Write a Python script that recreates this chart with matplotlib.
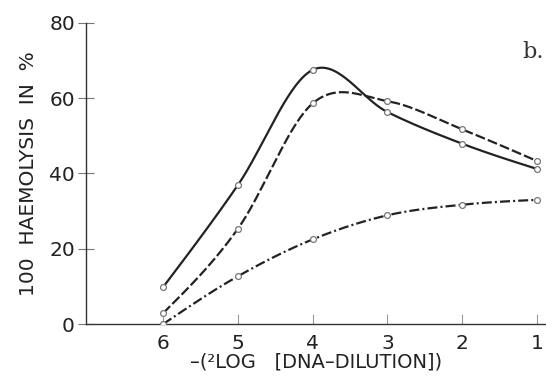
import numpy as np
import matplotlib
matplotlib.use("Agg")
import matplotlib.pyplot as plt

# data
dilution = [6, 5, 4, 3, 2, 1]
solid_vals = [9.8, 36.9, 67.5, 56.3, 47.9, 41.2]
dashed_vals = [2.9, 25.3, 58.6, 59.2, 51.7, 43.3]
dashdot_vals = [0.0, 12.7, 22.5, 28.9, 31.7, 33.0]
yticks = [0, 20, 40, 60, 80]


def smooth_curve(x, y, n=60):
    """ courbe de Catmull-Rom passant par les points (tracé lisse) """
    x = np.asarray(x, float)
    y = np.asarray(y, float)
    k = len(x)
    m = np.zeros(k)
    for i in range(1, k - 1):
        m[i] = (y[i + 1] - y[i - 1]) / (x[i + 1] - x[i - 1])
    c0 = (y[1] - y[0]) / (x[1] - x[0])
    c1 = (y[-1] - y[-2]) / (x[-1] - x[-2])
    m[0] = (3 * c0 - m[1]) / 2
    m[-1] = (3 * c1 - m[-2]) / 2
    xs_all, ys_all = [], []
    for i in range(k - 1):
        h = x[i + 1] - x[i]
        t = np.linspace(0, 1, n)
        h00 = 2 * t**3 - 3 * t**2 + 1
        h10 = t**3 - 2 * t**2 + t
        h01 = -2 * t**3 + 3 * t**2
        h11 = t**3 - t**2
        xs_all.append(x[i] + t * h)
        ys_all.append(h00 * y[i] + h10 * h * m[i] + h01 * y[i + 1]
                      + h11 * h * m[i + 1])
    return np.concatenate(xs_all), np.concatenate(ys_all)


fig = plt.figure(figsize=(5.46, 3.80), dpi=100)
ax = fig.add_axes([0.1575, 0.147, 0.8425, 0.793])

col = '#222222'
lw = 1.6
styles = [(solid_vals, '-'),
          (dashed_vals, (0, (4.5, 1.4))),
          (dashdot_vals, (0, (4.5, 1.4, 0.9, 1.4)))]
for vals, ls in styles:
    xs, ys = smooth_curve(dilution, vals)
    ax.plot(xs, ys, color=col, lw=lw, linestyle=ls, zorder=2)
    ax.plot(dilution, vals, 'o', ms=4.2, mfc='white', mec='#777777',
            mew=0.9, zorder=3)

ax.set_xlim(7.03, 0.88)
ax.set_ylim(0, 80)
ax.set_xticks(dilution)
ax.set_yticks(yticks)
for s in ['top', 'right']:
    ax.spines[s].set_visible(False)
for s in ['left', 'bottom']:
    ax.spines[s].set_color('#333333')
    ax.spines[s].set_linewidth(1.0)

ax.tick_params(axis='y', direction='inout', length=12, width=0.8,
               color='#777777', pad=2, labelsize=14.5, labelcolor='#222222')
ax.tick_params(axis='x', direction='in', length=7, width=0.8,
               color='#999999', pad=7, labelsize=14.5, labelcolor='#222222')

ax.set_ylabel('100  HAEMOLYSIS  IN  %', fontsize=14.5, color='#222222',
              labelpad=8)
ax.set_xlabel('\u2013(\u00b2LOG   [DNA\u2013DILUTION])', fontsize=14,
              color='#222222', labelpad=0)
ax.text(0.948, 0.883, 'b.', transform=ax.transAxes, fontsize=16,
        family='DejaVu Serif', color='#333333')

fig.savefig('out.png', dpi=100)
